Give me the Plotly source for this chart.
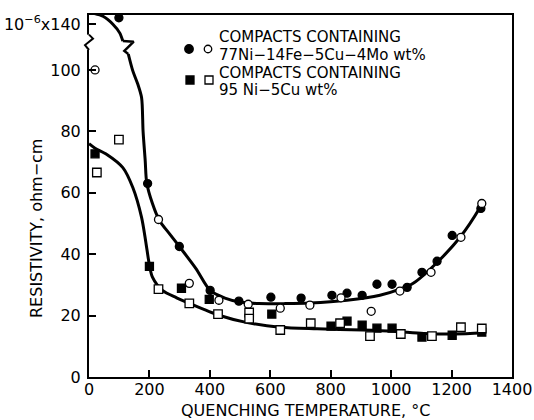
import plotly.graph_objects as go

# ---------------- data ----------------
# 77Ni-14Fe-5Cu-4Mo compacts
ni77_filled_x = [20, 99, 194, 299, 401, 496, 602, 702, 804, 854, 904, 953, 1003, 1053, 1102, 1152, 1202, 1297]
ni77_filled_y = [143, 142, 63, 42.5, 28.2, 24.7, 26, 25.7, 26.6, 27.3, 26.6, 30.2, 30.2, 29.2, 34.1, 37.7, 46.1, 54.9]
ni77_open_x = [20, 230, 332, 430, 527, 633, 731, 834, 934, 1029, 1132, 1231, 1300]
ni77_open_y = [100, 51.3, 30.5, 25, 23.7, 22.4, 23.4, 25.8, 21.4, 28, 34.1, 45.5, 56.5]
# 95Ni-5Cu compacts
ni95_filled_x = [20, 200, 306, 398, 605, 801, 854, 904, 953, 1003, 1102, 1202, 1300]
ni95_filled_y = [72.7, 36, 28.9, 25.3, 20.5, 16.6, 18.2, 16.9, 15.9, 15.9, 13, 13.6, 14.6]
ni95_open_x = [26, 99, 230, 332, 427, 530, 530, 633, 734, 831, 930, 1032, 1135, 1231, 1300]
ni95_open_y = [66.6, 77.3, 28.6, 24, 20.5, 21, 19, 15.3, 17.5, 17.5, 13.3, 14, 13.3, 16.2, 15.8]

# fitted curves
curve77_upper_x = [13, 46, 79, 102, 112]
curve77_upper_y = [143.5, 142.5, 139.9, 137, 134.4]
curve77_lower_x = [130, 145, 161, 174, 179, 186, 191, 210, 233, 266, 299, 354, 401, 450, 496, 562, 650, 731, 854, 963, 1029, 1073, 1152, 1228, 1294, 1306]
curve77_lower_y = [105.2, 99.7, 95.5, 91, 80, 70.5, 63.3, 56.5, 51, 46.7, 42.5, 35.3, 28.2, 25.7, 24.5, 23.9, 23.9, 24.1, 25, 26.6, 28.6, 30.5, 37.3, 45.5, 55.2, 57.5]
curve95_x = [0, 20, 59, 112, 145, 174, 188, 200, 210, 243, 290, 332, 430, 520, 633, 755, 906, 1007, 1108, 1209, 1309]
curve95_y = [76, 74.5, 72.5, 68.2, 61.7, 52, 44, 36.4, 32.5, 28.2, 25.8, 24, 20.1, 17.8, 16.2, 15.7, 15.3, 14.9, 14.2, 14.0, 14.4]

x_ticks = [0, 200, 400, 600, 800, 1000, 1200, 1400]
y_ticks = [0, 20, 40, 60, 80, 100, 140]
y_ticktext = ["0", "20", "40", "60", "80", "100", "10<sup>−6</sup>x140"]

legend_lines_77 = ["COMPACTS CONTAINING", "77Ni−14Fe−5Cu−4Mo wt%"]
legend_lines_95 = ["COMPACTS CONTAINING", "95 Ni−5Cu wt%"]

# ---------------- broken y axis mapping ----------------
BREAK_ABOVE = 120
BREAK_SHIFT = 25
YMAX = 117.9


def disp(vals):
    return [v - BREAK_SHIFT if v > BREAK_ABOVE else v for v in vals]


FONT = "DejaVu Sans"
fig = go.Figure()

line_style = dict(color="black", width=3, shape="spline", smoothing=0.8)
fig.add_trace(go.Scatter(x=curve77_upper_x, y=disp(curve77_upper_y), mode="lines",
                         line=line_style, cliponaxis=False, hoverinfo="skip"))
fig.add_trace(go.Scatter(x=curve77_lower_x, y=disp(curve77_lower_y), mode="lines",
                         line=line_style, cliponaxis=False, hoverinfo="skip"))
fig.add_trace(go.Scatter(x=curve95_x, y=disp(curve95_y), mode="lines",
                         line=line_style, cliponaxis=False, hoverinfo="skip"))

# zigzag break on the upper curve, joining the two curve segments
ux, uy = curve77_upper_x[-1], disp(curve77_upper_y)[-1]
lx, ly = curve77_lower_x[0], disp(curve77_lower_y)[0]
fig.add_trace(go.Scatter(x=[ux, ux + 36, lx - 13, lx], y=[uy, uy - 0.2, ly + 1.0, ly],
                         mode="lines", line=dict(color="black", width=2.5),
                         cliponaxis=False, hoverinfo="skip"))

mk_line = dict(color="black", width=1.3)
fig.add_trace(go.Scatter(x=ni77_filled_x, y=disp(ni77_filled_y), mode="markers",
                         marker=dict(symbol="circle", size=8, color="black", line=mk_line),
                         cliponaxis=False))
fig.add_trace(go.Scatter(x=ni77_open_x, y=disp(ni77_open_y), mode="markers",
                         marker=dict(symbol="circle", size=8, color="white", line=mk_line),
                         cliponaxis=False))
fig.add_trace(go.Scatter(x=ni95_filled_x, y=disp(ni95_filled_y), mode="markers",
                         marker=dict(symbol="square", size=8, color="black", line=mk_line),
                         cliponaxis=False))
fig.add_trace(go.Scatter(x=ni95_open_x, y=disp(ni95_open_y), mode="markers",
                         marker=dict(symbol="square", size=8.5, color="white", line=mk_line),
                         cliponaxis=False))

# ---------------- axis break on the left axis ----------------
shapes = []
b_lo, b_hi = 106.5, 111.5
shapes.append(dict(type="rect", xref="paper", yref="paper", xsizemode="pixel", xanchor=0,
                   x0=-4, x1=4, y0=b_lo / YMAX, y1=b_hi / YMAX,
                   fillcolor="white", line=dict(width=0), layer="above"))
shapes.append(dict(type="path", xref="paper", yref="paper", xsizemode="pixel", xanchor=0,
                   path=f"M 0 {b_hi / YMAX} L 4 {(b_hi - 1.3) / YMAX} L -4 {(b_lo + 1.6) / YMAX} L 0 {b_lo / YMAX}",
                   line=dict(color="black", width=2), layer="above"))

# ---------------- legend (custom) ----------------
def sym(kind, filled, px, py, size):
    h = size / 2
    return dict(type=kind, xref="paper", yref="paper", xsizemode="pixel", ysizemode="pixel",
                xanchor=px, yanchor=py, x0=-h, x1=h, y0=-h, y1=h,
                fillcolor="black" if filled else "white",
                line=dict(color="black", width=1.3), layer="above")


PLOT_W, PLOT_H = 423, 362
shapes.append(sym("circle", True, 100 / PLOT_W, (377 - 49) / PLOT_H, 8.5))
shapes.append(sym("circle", False, 119 / PLOT_W, (377 - 49) / PLOT_H, 7.5))
shapes.append(sym("rect", True, 101 / PLOT_W, (377 - 80) / PLOT_H, 8))
shapes.append(sym("rect", False, 120 / PLOT_W, (377 - 80) / PLOT_H, 8))

annotations = []
rows = legend_lines_77 + legend_lines_95
row_y = [37, 54.8, 72.6, 90.4]
for txt, ry in zip(rows, row_y):
    annotations.append(dict(text=txt, xref="paper", yref="paper", x=129 / PLOT_W,
                            y=(377 - ry) / PLOT_H, xanchor="left", yanchor="middle",
                            showarrow=False, borderpad=0,
                            font=dict(family=FONT, size=15, color="black")))

annotations.append(dict(text="RESISTIVITY, ohm−cm", xref="paper", yref="paper",
                        x=(37 - 89) / PLOT_W, y=(377 - 229) / PLOT_H, textangle=-90,
                        xanchor="center", yanchor="middle", showarrow=False,
                        font=dict(family=FONT, size=16, color="black")))
annotations.append(dict(text="QUENCHING TEMPERATURE, °C", xref="paper", yref="paper",
                        x=(305 - 89) / PLOT_W, y=(377 - 410) / PLOT_H,
                        xanchor="center", yanchor="middle", showarrow=False, borderpad=0,
                        font=dict(family=FONT, size=16, color="black")))

axis_common = dict(showline=True, linecolor="black", linewidth=2, mirror=True,
                   ticks="inside", ticklen=7, tickwidth=1.5, tickcolor="black",
                   showgrid=False, zeroline=False, automargin=False,
                   tickfont=dict(family=FONT, size=16, color="black"))

fig.update_layout(
    width=534, height=420,
    margin=dict(l=89, r=22, t=15, b=43),
    paper_bgcolor="white", plot_bgcolor="white",
    showlegend=False,
    xaxis=dict(range=[0, 1400], tickvals=x_ticks, ticktext=[str(v) for v in x_ticks],
               ticklabelstandoff=-3, **axis_common),
    yaxis=dict(range=[0, YMAX], tickvals=disp(y_ticks), ticktext=y_ticktext,
               ticklabelstandoff=3, **axis_common),
    shapes=shapes,
    annotations=annotations,
)

fig.write_html("out.html")
